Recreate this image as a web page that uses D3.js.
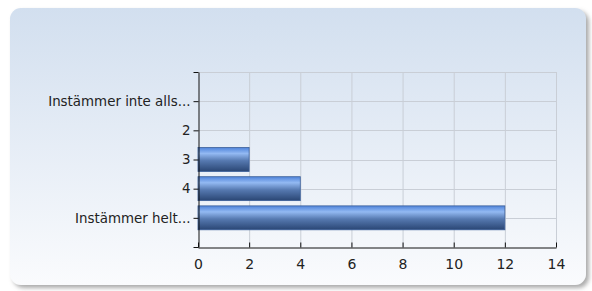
<!DOCTYPE html>
<head>
<meta charset="utf-8">
<style>
body, html {
  margin: 0;
  padding: 0;
  background: #fff;
}
.grid line {
  stroke: #c9ced6;
  stroke-width: 1;
}
.axis text {
  font-family: "DejaVu Sans", Verdana, sans-serif;
  fill: #222;
}
.axis path, .axis line {
  stroke: #111;
}
</style>
<script src="https://d3js.org/d3.v7.min.js"></script>
</head>
<body>
<div id="chart"></div>
<script>

// categories top to bottom, with their answer counts
var categories = ["Instämmer inte alls...", "2", "3", "4", "Instämmer helt..."];
var counts = [0, 0, 2, 4, 12];
var xTicks = [0, 2, 4, 6, 8, 10, 12, 14];

var width = 592,
    height = 291,
    margin = {left: 198, right: 36, top: 72, bottom: 44};

var svg = d3.select("#chart").append("svg")
    .attr("width", width)
    .attr("height", height);

var defs = svg.append("defs");

var bg = defs.append("linearGradient")
    .attr("id", "bg").attr("x1", 0).attr("y1", 0).attr("x2", 0).attr("y2", 1);
bg.append("stop").attr("offset", "0%").attr("stop-color", "#d2dfef");
bg.append("stop").attr("offset", "100%").attr("stop-color", "#fafbfd");

var barGrad = defs.append("linearGradient")
    .attr("id", "bar").attr("x1", 0).attr("y1", 0).attr("x2", 0).attr("y2", 1);
barGrad.append("stop").attr("offset", "0%").attr("stop-color", "#4f84db");
barGrad.append("stop").attr("offset", "25%").attr("stop-color", "#93b9f2");
barGrad.append("stop").attr("offset", "55%").attr("stop-color", "#5679b0");
barGrad.append("stop").attr("offset", "100%").attr("stop-color", "#2a4674");

var shadow = defs.append("filter").attr("id", "shadow")
    .attr("x", "-5%").attr("y", "-5%").attr("width", "115%").attr("height", "115%");
shadow.append("feDropShadow")
    .attr("dx", 3).attr("dy", 3).attr("stdDeviation", 2)
    .attr("flood-color", "#888").attr("flood-opacity", 0.7);

// panel
svg.append("rect")
    .attr("x", 10).attr("y", 8)
    .attr("width", 576).attr("height", 277)
    .attr("rx", 11).attr("ry", 11)
    .attr("fill", "url(#bg)")
    .attr("filter", "url(#shadow)");

var x = d3.scaleLinear()
    .domain([0, 14])
    .range([margin.left, width - margin.right]);

// categories sit on positions 1..5 of a 0..6 axis
var y = d3.scaleLinear()
    .domain([0, categories.length + 1])
    .range([margin.top, height - margin.bottom]);

var yTicks = d3.range(0, categories.length + 2);
var step = y(1) - y(0);

// grid
var grid = svg.append("g").attr("class", "grid");
grid.selectAll("line.v")
    .data(xTicks.slice(1))
    .enter().append("line")
    .attr("x1", function(d) { return x(d) + 0.5; })
    .attr("x2", function(d) { return x(d) + 0.5; })
    .attr("y1", y(0))
    .attr("y2", y(categories.length + 1));
grid.selectAll("line.h")
    .data(yTicks.slice(0, -1))
    .enter().append("line")
    .attr("x1", x(0))
    .attr("x2", x(14))
    .attr("y1", function(d) { return Math.round(y(d)) + 0.5; })
    .attr("y2", function(d) { return Math.round(y(d)) + 0.5; });

// bars
svg.selectAll("rect.bar")
    .data(counts.map(function(v, i) { return {v: v, i: i}; }).filter(function(d) { return d.v > 0; }))
    .enter().append("rect")
    .attr("class", "bar")
    .attr("x", x(0))
    .attr("y", function(d) { return y(d.i + 1) - step * 0.41; })
    .attr("width", function(d) { return x(d.v) - x(0); })
    .attr("height", step * 0.82)
    .attr("fill", "url(#bar)")
    .attr("stroke", "#3b5f99")
    .attr("stroke-width", 0.8);

// axes
var yAxis = d3.axisLeft(y)
    .tickValues(yTicks)
    .tickSize(5)
    .tickSizeOuter(0)
    .tickFormat(function(d) { return d >= 1 && d <= categories.length ? categories[d - 1] : ""; });

svg.append("g")
    .attr("class", "axis")
    .attr("transform", "translate(" + (x(0) + 0.5) + ",0)")
    .call(yAxis)
    .call(function(g) {
      g.attr("font-size", 13.4);
      g.selectAll("text").attr("x", -8);
    });

var xAxis = d3.axisBottom(x)
    .tickValues(xTicks)
    .tickSize(-4)
    .tickSizeOuter(0)
    .tickFormat(d3.format("d"));

svg.append("g")
    .attr("class", "axis")
    .attr("transform", "translate(0," + (y(categories.length + 1) + 0.5) + ")")
    .call(xAxis)
    .call(function(g) {
      g.attr("font-size", 14);
      g.selectAll("text").attr("y", 12);
      g.selectAll(".tick line").attr("y1", 0).attr("y2", -5);
    });

</script>
</body>
